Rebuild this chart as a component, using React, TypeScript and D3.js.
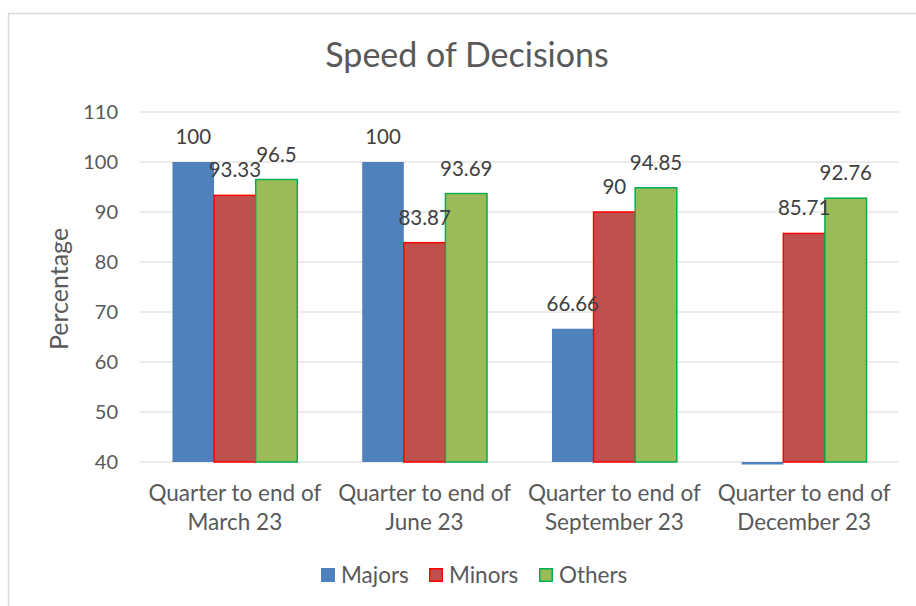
import React, { useRef, useEffect } from "react";
import * as d3 from "d3";

const categories = [
  ["Quarter to end of", "March 23"],
  ["Quarter to end of", "June 23"],
  ["Quarter to end of", "September 23"],
  ["Quarter to end of", "December 23"],
];
const seriesNames = ["Majors", "Minors", "Others"];
const majors = [100, 100, 66.66, 0];
const minors = [93.33, 83.87, 90, 85.71];
const others = [96.5, 93.69, 94.85, 92.76];
const yTicks = [40, 50, 60, 70, 80, 90, 100, 110];

const fills = ["#4F81BD", "#C0504D", "#9BBB59"];
const strokes = ["none", "#FF0000", "#00B050"];

function App() {
  const svgRef = useRef<SVGSVGElement>(null);

  useEffect(() => {
    const width = 916, height = 606;
    const plot = { left: 140, right: 899, top: 112, bottom: 462 };
    const font = "Lato, 'Open Sans', sans-serif";
    const textColor = "#595959";

    const svg = d3.select(svgRef.current);
    svg.selectAll("*").remove();
    svg.attr("width", width).attr("height", height);

    // chart border
    svg.append("rect")
      .attr("x", 8.5).attr("y", 13.5)
      .attr("width", 930).attr("height", 620)
      .attr("fill", "white")
      .attr("stroke", "#d9d9d9")
      .attr("stroke-width", 1.5);

    const x0 = d3.scaleBand()
      .domain(d3.range(categories.length).map(String))
      .range([plot.left, plot.right]);

    const x1 = d3.scaleBand()
      .domain(seriesNames)
      .range([0, x0.bandwidth()])
      .paddingOuter(0.78)
      .paddingInner(0);

    const yScale = d3.scaleLinear()
      .domain([40, 110])
      .range([plot.bottom, plot.top]);

    svg.append("text")
      .attr("x", 467).attr("y", 67)
      .attr("text-anchor", "middle")
      .attr("font-family", font)
      .attr("font-size", 34)
      .attr("fill", textColor)
      .text("Speed of Decisions");

    // grid
    svg.append("g")
      .selectAll("line")
      .data(yTicks)
      .join("line")
      .attr("x1", plot.left).attr("x2", plot.right)
      .attr("y1", d => yScale(d)).attr("y2", d => yScale(d))
      .attr("stroke", "#d9d9d9")
      .attr("stroke-width", 1.2);

    svg.append("g")
      .selectAll("text")
      .data(yTicks)
      .join("text")
      .attr("x", 118)
      .attr("y", d => yScale(d))
      .attr("dy", "0.35em")
      .attr("text-anchor", "end")
      .attr("font-family", font)
      .attr("font-size", 20)
      .attr("fill", textColor)
      .text(d => d);

    svg.append("text")
      .attr("transform", `translate(68, ${(plot.top + plot.bottom) / 2 + 2}) rotate(-90)`)
      .attr("text-anchor", "middle")
      .attr("font-family", font)
      .attr("font-size", 25)
      .attr("fill", textColor)
      .text("Percentage");

    svg.append("defs").append("clipPath")
      .attr("id", "plot-clip")
      .append("rect")
      .attr("x", plot.left).attr("y", plot.top - 60)
      .attr("width", plot.right - plot.left)
      .attr("height", plot.bottom - plot.top + 62.5);

    const allSeries = [majors, minors, others];
    const bars = allSeries.flatMap((vals, s) =>
      vals.map((v, i) => ({ s, i, v, name: seriesNames[s] })));

    svg.append("g")
      .attr("clip-path", "url(#plot-clip)")
      .selectAll("rect")
      .data(bars)
      .join("rect")
      .attr("x", d => x0(String(d.i))! + x1(d.name)!)
      .attr("width", x1.bandwidth())
      .attr("y", d => Math.min(yScale(d.v), yScale(40)))
      .attr("height", d => Math.abs(yScale(40) - yScale(d.v)))
      .attr("fill", d => fills[d.s])
      .attr("stroke", d => strokes[d.s])
      .attr("stroke-width", 1.5);

    svg.append("g")
      .selectAll("text")
      .data(bars.filter(d => d.v >= 40))
      .join("text")
      .attr("x", d => x0(String(d.i))! + x1(d.name)! + x1.bandwidth() / 2)
      .attr("y", d => yScale(d.v) - 18)
      .attr("text-anchor", "middle")
      .attr("font-family", font)
      .attr("font-size", 20.5)
      .attr("fill", "#404040")
      .text(d => d.v);

    // category labels
    const cat = svg.append("g")
      .selectAll("text")
      .data(categories)
      .join("text")
      .attr("text-anchor", "middle")
      .attr("font-family", font)
      .attr("font-size", 22.5)
      .attr("fill", textColor)
      .attr("transform", (d, i) => `translate(${x0(String(i))! + x0.bandwidth() / 2}, 501)`);
    cat.selectAll("tspan")
      .data(d => d)
      .join("tspan")
      .attr("x", 0)
      .attr("y", (d, j) => j * 28.5)
      .text(d => d);

    // legend
    const legendX = [321, 429, 539];
    const legend = svg.append("g")
      .selectAll("g")
      .data(seriesNames)
      .join("g")
      .attr("transform", (d, i) => `translate(${legendX[i]}, 575)`);
    legend.append("rect")
      .attr("x", 0.75).attr("y", -6.25)
      .attr("width", 12.5).attr("height", 12.5)
      .attr("fill", (d, i) => fills[i])
      .attr("stroke", (d, i) => strokes[i] === "none" ? fills[i] : strokes[i])
      .attr("stroke-width", 1.5);
    legend.append("text")
      .attr("x", 20)
      .attr("dy", "0.35em")
      .attr("font-family", font)
      .attr("font-size", 22.5)
      .attr("fill", textColor)
      .text(d => d);
  }, []);

  return (
    <div style={{ position: "absolute", left: 0, top: 0 }}>
      <svg ref={svgRef} style={{ display: "block" }}></svg>
    </div>
  );
}

export default App;
